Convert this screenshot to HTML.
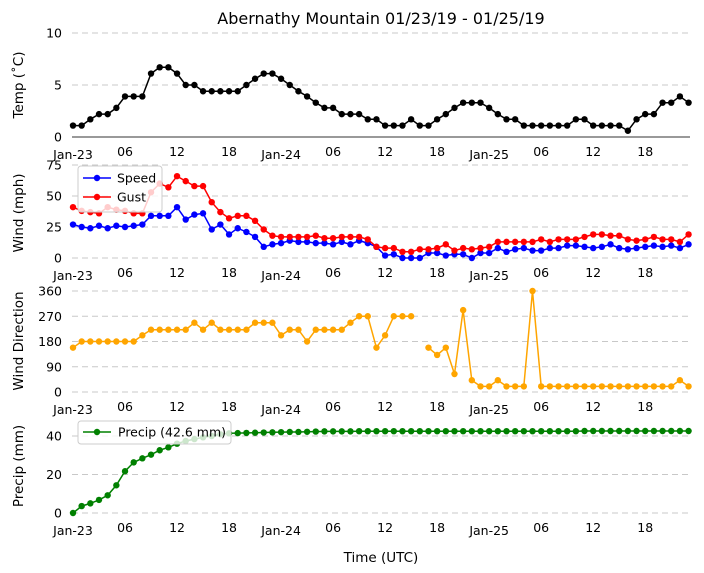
<!DOCTYPE html>
<html><head><meta charset="utf-8"><style>
html,body{margin:0;padding:0;background:#fff;}
svg{display:block;font-family:"DejaVu Sans","Liberation Sans",sans-serif;}
</style></head><body>
<svg id="chart" width="704" height="573" viewBox="0 0 704 573">
<text x="381" y="24" text-anchor="middle" font-size="16">Abernathy Mountain 01/23/19 - 01/25/19</text>
<text x="381" y="562" text-anchor="middle" font-size="13.5">Time (UTC)</text>
</svg>
<script>
const hours = Array.from({length:72},(_,i)=>i);
const temp = [1.1,1.1,1.7,2.2,2.2,2.8,3.9,3.9,3.9,6.1,6.7,6.7,6.1,5.0,5.0,4.4,4.4,4.4,4.4,4.4,5.0,5.6,6.1,6.1,5.6,5.0,4.4,3.9,3.3,2.8,2.8,2.2,2.2,2.2,1.7,1.7,1.1,1.1,1.1,1.7,1.1,1.1,1.7,2.2,2.8,3.3,3.3,3.3,2.8,2.2,1.7,1.7,1.1,1.1,1.1,1.1,1.1,1.1,1.7,1.7,1.1,1.1,1.1,1.1,0.6,1.7,2.2,2.2,3.3,3.3,3.9,3.3];
const speed = [27,25,24,26,24,26,25,26,27,34,34,34,41,31,35,36,23,27,19,24,21,17,9,11,12,14,13,13,12,12,11,13,11,14,12,9,2,3,0,0,0,4,4,2,3,3,0,4,4,8,5,7,8,6,6,8,8,10,10,9,8,9,11,8,7,8,9,10,9,10,8,11];
const gust = [41,38,37,36,41,39,38,36,36,53,60,57,66,62,58,58,45,37,32,34,34,30,23,18,17,17,17,17,18,16,16,17,17,17,15,9,8,8,5,5,7,7,8,11,6,8,7,8,9,13,13,13,13,13,15,13,15,15,15,17,19,19,18,18,15,14,15,17,15,15,13,19];
const dir = [158,180,180,180,180,180,180,180,202,222,222,222,222,222,247,222,247,222,222,222,222,247,247,247,202,222,222,180,222,222,222,222,247,270,270,158,202,270,270,270,null,158,132,158,64,292,42,20,20,42,20,20,20,360,20,20,20,20,20,20,20,20,20,20,20,20,20,20,20,20,42,20];
const precip = [0,3.6,5.0,6.8,9.2,14.4,21.7,26.3,28.4,30.3,32.6,34.1,36.0,37.4,38.4,39.3,40.0,40.9,41.4,41.5,41.6,41.7,41.8,41.9,42.0,42.1,42.1,42.2,42.3,42.4,42.4,42.4,42.4,42.5,42.5,42.5,42.5,42.5,42.5,42.5,42.5,42.5,42.5,42.5,42.5,42.5,42.5,42.5,42.5,42.5,42.5,42.5,42.5,42.5,42.5,42.5,42.5,42.5,42.5,42.6,42.6,42.6,42.6,42.6,42.6,42.6,42.6,42.6,42.6,42.6,42.6,42.6];
const xTickHours = [0,6,12,18,24,30,36,42,48,54,60,66];
const xTickLabels = ["Jan-23","06","12","18","Jan-24","06","12","18","Jan-25","06","12","18"];
const tempTicks = [0,5,10];
const windTicks = [0,25,50,75];
const dirTicks = [0,90,180,270,360];
const precipTicks = [0,20,40];

const NS="http://www.w3.org/2000/svg";
const svg=document.getElementById('chart');
const X0=73, PX=8.67;
const xs=h=>X0+h*PX;
function mk(tag,attrs){const e=document.createElementNS(NS,tag);for(const k in attrs)e.setAttribute(k,attrs[k]);svg.appendChild(e);return e;}
function yScale(vmin,vmax,ybot,ytop){return v=>ybot-(v-vmin)/(vmax-vmin)*(ybot-ytop);}

function panel(name,ys,ticks,ybot,label,labelY,baseline){
  ticks.forEach(t=>{
    const y=ys(t);
    const g=mk('line',{x1:72,x2:690,y1:y,y2:y,stroke:'#c8c8c8','stroke-width':1,'stroke-dasharray':'6,4'});
    
    
    const tx=mk('text',{x:62,y:y+4.5,'text-anchor':'end','font-size':12.5});
    tx.textContent=t;
    
    
  });
  if(baseline){
    const b=mk('line',{x1:72,x2:690,y1:ybot,y2:ybot,stroke:'#333','stroke-width':1});
    
    
  }
  xTickHours.forEach((h,i)=>{
    const isMajor=xTickLabels[i].startsWith('Jan');
    const t=mk('text',{x:xs(h),y:ybot+(isMajor?22:19),'text-anchor':'middle','font-size':12.5});
    t.textContent=xTickLabels[i];
    
    
  });
  const yl=mk('text',{x:0,y:0,'text-anchor':'middle','font-size':13.5,transform:`translate(23,${labelY}) rotate(-90)`});
  yl.textContent=label;
  
  
}
function series(name,vals,ys,color){
  let d='',pen=false;
  vals.forEach((v,i)=>{ if(v===null){pen=false;return;} d+=(pen?'L':'M')+xs(hours[i]).toFixed(1)+','+ys(v).toFixed(1); pen=true;});
  const p=mk('path',{d:d,fill:'none',stroke:color,'stroke-width':1.5});
  
  
  vals.forEach((v,i)=>{ if(v===null)return;
    const c=mk('circle',{cx:xs(hours[i]),cy:ys(v),r:3.2,fill:color});
    
    
  });
}
function legend(name,x,y,w,entries){
  const r=mk('rect',{x:x,y:y,width:w,height:entries.length*21+4,rx:3,fill:'#fff','fill-opacity':0.8,stroke:'#ccc'});
  
  
  entries.forEach((e,i)=>{
    const cy=y+12+i*19;
    const l=mk('line',{x1:x+5,x2:x+33,y1:cy,y2:cy,stroke:e[1],'stroke-width':1.5});
    
    
    const c=mk('circle',{cx:x+19,cy:cy,r:3.2,fill:e[1]});
    
    
    const t=mk('text',{x:x+39,y:cy+4.5,'font-size':12.5});
    t.textContent=e[0];
    
    
  });
}

const yT=yScale(0,10,137,33);
panel('temp',yT,tempTicks,137,'Temp (˚C)',85,true);
series('temp',temp,yT,'#000');

const yW=yScale(0,75,258,165);
panel('wind',yW,windTicks,258,'Wind (mph)',213,false);
series('speed',speed,yW,'#0000ff');
series('gust',gust,yW,'#ff0000');
legend('wind-legend',78,166,84,[['Speed','#0000ff'],['Gust','#ff0000']]);

const yD=yScale(0,360,392,291);
panel('dir',yD,dirTicks,392,'Wind Direction',341,false);
series('dir',dir,yD,'#ffa500');

const yP=yScale(0,40,513,436);
panel('precip',yP,precipTicks,513,'Precip (mm)',466,false);
series('precip',precip,yP,'#008000');
const lg=mk('rect',{x:78,y:421,width:153,height:23,rx:3,fill:'#fff','fill-opacity':0.8,stroke:'#ccc'});


const ll=mk('line',{x1:83,x2:111,y1:432,y2:432,stroke:'#008000','stroke-width':1.5});


const lc=mk('circle',{cx:97,cy:432,r:3.2,fill:'#008000'});


const lt=mk('text',{x:118,y:436.5,'font-size':12.5});
lt.textContent='Precip (42.6 mm)';


</script>
</body></html>
